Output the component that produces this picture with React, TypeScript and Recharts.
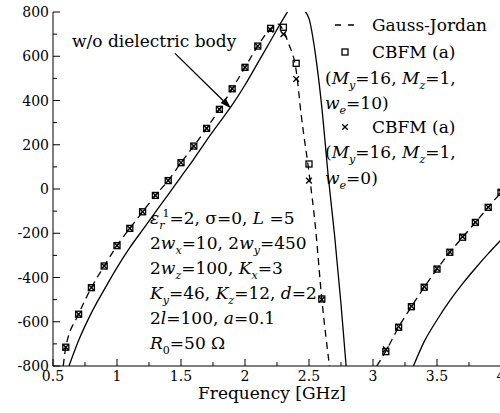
import React from 'react';
import {
  ComposedChart, Line, Scatter, XAxis, YAxis, ReferenceLine, Customized,
} from 'recharts';

// Gauss-Jordan (dashed), lower branch
const gjFreqA = [0.58, 0.6, 0.7, 0.8, 0.9, 1.0, 1.1, 1.2, 1.3, 1.4, 1.5, 1.6, 1.7, 1.8, 1.9, 2.0, 2.1, 2.2, 2.26, 2.3, 2.34, 2.4, 2.44, 2.5, 2.55, 2.6, 2.66];
const gjValA = [-800, -715, -566, -446, -348, -256, -178, -103, -29, 38, 119, 194, 274, 360, 453, 550, 646, 726, 745, 715, 658, 535, 330, 75, -170, -497, -800];
// Gauss-Jordan (dashed), upper branch
const gjFreqB = [3.03, 3.1, 3.2, 3.3, 3.4, 3.5, 3.6, 3.7, 3.8, 3.9, 4.0];
const gjValB = [-800, -733, -625, -532, -444, -362, -286, -218, -151, -83, -15];

// w/o dielectric body (solid)
const bareFreqA = [0.625, 0.7, 0.8, 0.9, 1.0, 1.1, 1.2, 1.3, 1.4, 1.5, 1.6, 1.7, 1.8, 1.9, 2.0, 2.1, 2.2, 2.3, 2.35, 2.4, 2.45, 2.5, 2.55, 2.6, 2.65, 2.7, 2.75, 2.79];
const bareValA = [-800, -685, -560, -455, -355, -265, -185, -105, -25, 55, 135, 220, 300, 380, 470, 570, 670, 770, 815, 835, 815, 770, 610, 370, 60, -210, -520, -800];
const bareFreqB = [3.316, 3.4, 3.5, 3.6, 3.7, 3.8, 3.9, 4.0];
const bareValB = [-800, -690, -592, -505, -428, -358, -292, -230];

// CBFM (a) markers
const cbfmFreq = [0.6, 0.7, 0.8, 0.9, 1.0, 1.1, 1.2, 1.3, 1.4, 1.5, 1.6, 1.7, 1.8, 1.9, 2.0, 2.1, 2.2, 2.3, 2.4, 2.5, 2.6, 3.1, 3.2, 3.3, 3.4, 3.5, 3.6, 3.7, 3.8, 3.9, 4.0];
const cbfmWe10 = [-715, -566, -446, -348, -256, -178, -103, -29, 38, 119, 194, 274, 360, 453, 550, 646, 726, 731, 568, 113, -497, -735, -625, -532, -444, -362, -286, -218, -151, -83, -15];
const cbfmWe0 = [-715, -566, -446, -348, -256, -178, -103, -29, 38, 119, 194, 274, 360, 453, 550, 646, 720, 700, 497, 38, -500, -725, -622, -530, -442, -360, -284, -216, -150, -82, -14];

const xTicks = [0.5, 0.75, 1, 1.25, 1.5, 1.75, 2, 2.25, 2.5, 2.75, 3, 3.25, 3.5, 3.75, 4];
const yTicks = [-800, -700, -600, -500, -400, -300, -200, -100, 0, 100, 200, 300, 400, 500, 600, 700, 800];

const zip = (xs: number[], ys: number[]) => xs.map((x, i) => ({ x, y: ys[i] }));

// Liberation Serif falls back to a sans face in this renderer, DejaVu Serif holds up
const FONT = 'DejaVu Serif';
const fontStyle: React.CSSProperties = { fontFamily: FONT };
const TXT = 17;
const TICK = 14;

type Seg = { t: string; i?: boolean; s?: 'sub' | 'sup'; dx?: number };

const Rich = ({ x, y, segs, size = TXT }: { x: number; y: number; segs: Seg[]; size?: number }) => {
  let cur = 0;
  return (
    <text x={x} y={y} fontSize={size} fill="#000" style={{ ...fontStyle, whiteSpace: 'pre' }}>
      {segs.map((s, k) => {
        const off = s.s === 'sub' ? size * 0.3 : s.s === 'sup' ? -size * 0.42 : 0;
        const dy = off - cur;
        cur = off;
        return (
          <tspan key={k} dy={dy} dx={s.dx} fontStyle={s.i ? 'italic' : 'normal'} fontSize={s.s ? size * 0.65 : size}>
            {s.t}
          </tspan>
        );
      })}
    </text>
  );
};

const isMajorX = (v: number) => Math.abs(v * 2 - Math.round(v * 2)) < 1e-6;

const BottomTick = (p: any) => {
  const v = p.payload.value;
  const major = isMajorX(v);
  return (
    <g>
      <line x1={p.x} x2={p.x} y1={p.y} y2={p.y - (major ? 7 : 4)} stroke="#000" />
      {major && (
        <text x={p.x} y={p.y + 15} textAnchor="middle" fontSize={TICK} fill="#000" style={fontStyle}>{String(v)}</text>
      )}
    </g>
  );
};

const TopTick = (p: any) => {
  const major = isMajorX(p.payload.value);
  return <line x1={p.x} x2={p.x} y1={p.y} y2={p.y + (major ? 7 : 4)} stroke="#000" />;
};

const LeftTick = (p: any) => {
  const v = p.payload.value;
  const major = v % 200 === 0;
  return (
    <g>
      <line x1={p.x} x2={p.x + (major ? 7 : 4)} y1={p.y} y2={p.y} stroke="#000" />
      {major && (
        <text x={p.x - 4} y={p.y + 5} textAnchor="end" fontSize={TICK} fill="#000" style={fontStyle}>{String(v)}</text>
      )}
    </g>
  );
};

const RightTick = (p: any) => {
  const major = p.payload.value % 200 === 0;
  return <line x1={p.x} x2={p.x - (major ? 7 : 4)} y1={p.y} y2={p.y} stroke="#000" />;
};

const Square = (p: any) => (
  <rect x={p.cx - 3} y={p.cy - 3} width={6} height={6} fill="none" stroke="#000" strokeWidth={1.3} />
);
const Cross = (p: any) => (
  <path d={`M${p.cx - 2.8},${p.cy - 2.8}L${p.cx + 2.8},${p.cy + 2.8}M${p.cx - 2.8},${p.cy + 2.8}L${p.cx + 2.8},${p.cy - 2.8}`} stroke="#000" strokeWidth={1.4} fill="none" />
);

const Arrow = (p: any) => {
  const { x1, y1, x2, y2 } = p;
  const a = Math.atan2(y2 - y1, x2 - x1);
  const L = 11, W = 3.5;
  const bx = x2 - L * Math.cos(a), by = y2 - L * Math.sin(a);
  const px = -Math.sin(a) * W, py = Math.cos(a) * W;
  return (
    <g>
      <line x1={x1} y1={y1} x2={bx} y2={by} stroke="#000" strokeWidth={1.3} />
      <polygon points={`${x2},${y2} ${bx + px},${by + py} ${bx - px},${by - py}`} fill="#000" />
    </g>
  );
};

const Annotations = () => (
  <g>
    <defs>
      <clipPath id="ylab-clip">
        <rect x={10} y={0} width={5} height={413} />
      </clipPath>
    </defs>
    <text transform="rotate(-90, 9.5, 100)" x={9.5} y={100} textAnchor="end" fontSize={15} clipPath="url(#ylab-clip)" style={fontStyle}>Input reactance [Ω]</text>

    <Rich x={72} y={47} segs={[{ t: 'w/o dielectric body' }]} />

    <Rich x={150} y={224} segs={[{ t: 'ε', i: true }, { t: 'r', i: true, s: 'sub' }, { t: '1', s: 'sup', dx: -2 }, { t: '=2, σ=0, ' }, { t: 'L', i: true }, { t: ' =5' }]} />
    <Rich x={150} y={249} segs={[{ t: '2' }, { t: 'w', i: true }, { t: 'x', i: true, s: 'sub' }, { t: '=10, 2' }, { t: 'w', i: true }, { t: 'y', i: true, s: 'sub' }, { t: '=450' }]} />
    <Rich x={150} y={274} segs={[{ t: '2' }, { t: 'w', i: true }, { t: 'z', i: true, s: 'sub' }, { t: '=100, ' }, { t: 'K', i: true }, { t: 'x', i: true, s: 'sub' }, { t: '=3' }]} />
    <Rich x={150} y={299} segs={[{ t: 'K', i: true }, { t: 'y', i: true, s: 'sub' }, { t: '=46, ' }, { t: 'K', i: true }, { t: 'z', i: true, s: 'sub' }, { t: '=12, ' }, { t: 'd', i: true }, { t: '=2' }]} />
    <Rich x={150} y={324} segs={[{ t: '2' }, { t: 'l', i: true }, { t: '=100, ' }, { t: 'a', i: true }, { t: '=0.1' }]} />
    <Rich x={150} y={349} segs={[{ t: 'R', i: true }, { t: '0', s: 'sub' }, { t: '=50 Ω' }]} />

    {/* legend */}
    <line x1={335} x2={354} y1={25} y2={25} stroke="#000" strokeWidth={1.3} strokeDasharray="6 7" />
    <Rich x={372} y={31} segs={[{ t: 'Gauss-Jordan' }]} />
    <Square cx={345} cy={52} />
    <Rich x={372} y={58} segs={[{ t: 'CBFM (a)' }]} />
    <Rich x={325} y={84} segs={[{ t: '(' }, { t: 'M', i: true }, { t: 'y', i: true, s: 'sub' }, { t: '=16, ' }, { t: 'M', i: true }, { t: 'z', i: true, s: 'sub' }, { t: '=1,' }]} />
    <Rich x={325} y={109} segs={[{ t: 'w', i: true }, { t: 'e', i: true, s: 'sub' }, { t: '=10)' }]} />
    <Cross cx={345} cy={127} />
    <Rich x={372} y={133} segs={[{ t: 'CBFM (a)' }]} />
    <Rich x={325} y={158} segs={[{ t: '(' }, { t: 'M', i: true }, { t: 'y', i: true, s: 'sub' }, { t: '=16, ' }, { t: 'M', i: true }, { t: 'z', i: true, s: 'sub' }, { t: '=1,' }]} />
    <Rich x={325} y={184} segs={[{ t: 'w', i: true }, { t: 'e', i: true, s: 'sub' }, { t: '=0)' }]} />

    <text x={272} y={399} textAnchor="middle" fontSize={TXT} fill="#000" style={fontStyle}>Frequency [GHz]</text>
  </g>
);

export default function App() {
  const lineProps = { dot: false, activeDot: false, isAnimationActive: false, stroke: '#000', strokeWidth: 1.3, type: 'monotone' as const };
  return (
    <div style={{ position: 'absolute', left: 0, top: 0, width: 500, height: 413, overflow: 'hidden', background: '#fff', fontFamily: FONT }}>
      <ComposedChart width={510} height={413} margin={{ top: 12, right: 9, left: 0, bottom: 17 }}>
        <XAxis type="number" dataKey="x" domain={[0.5, 4]} ticks={xTicks} interval={0} allowDataOverflow
          height={30} tickLine={false} tickSize={0} tickMargin={0} tick={<BottomTick />} stroke="#000" />
        <XAxis xAxisId="top" orientation="top" type="number" dataKey="x" domain={[0.5, 4]} ticks={xTicks} interval={0}
          height={0} tickLine={false} tickSize={0} tickMargin={0} tick={<TopTick />} stroke="#000" />
        <YAxis type="number" domain={[-800, 800]} ticks={yTicks} interval={0} allowDataOverflow
          width={53} tickLine={false} tickSize={0} tickMargin={0} tick={<LeftTick />} stroke="#000" />
        <YAxis yAxisId="right" orientation="right" type="number" domain={[-800, 800]} ticks={yTicks} interval={0}
          width={0} tickLine={false} tickSize={0} tickMargin={0} tick={<RightTick />} stroke="#000" />

        <Line data={zip(gjFreqA, gjValA)} dataKey="y" {...lineProps} strokeDasharray="7 5" />
        <Line data={zip(gjFreqB, gjValB)} dataKey="y" {...lineProps} strokeDasharray="7 5" />
        <Line data={zip(bareFreqA, bareValA)} dataKey="y" {...lineProps} />
        <Line data={zip(bareFreqB, bareValB)} dataKey="y" {...lineProps} />

        <Scatter data={zip(cbfmFreq, cbfmWe10)} dataKey="y" shape={<Square />} isAnimationActive={false} />
        <Scatter data={zip(cbfmFreq, cbfmWe0)} dataKey="y" shape={<Cross />} isAnimationActive={false} />

        <ReferenceLine segment={[{ x: 1.453, y: 613 }, { x: 1.89, y: 365 }]} shape={<Arrow />} ifOverflow="visible" />

        <Customized component={<Annotations />} />
      </ComposedChart>
    </div>
  );
}
